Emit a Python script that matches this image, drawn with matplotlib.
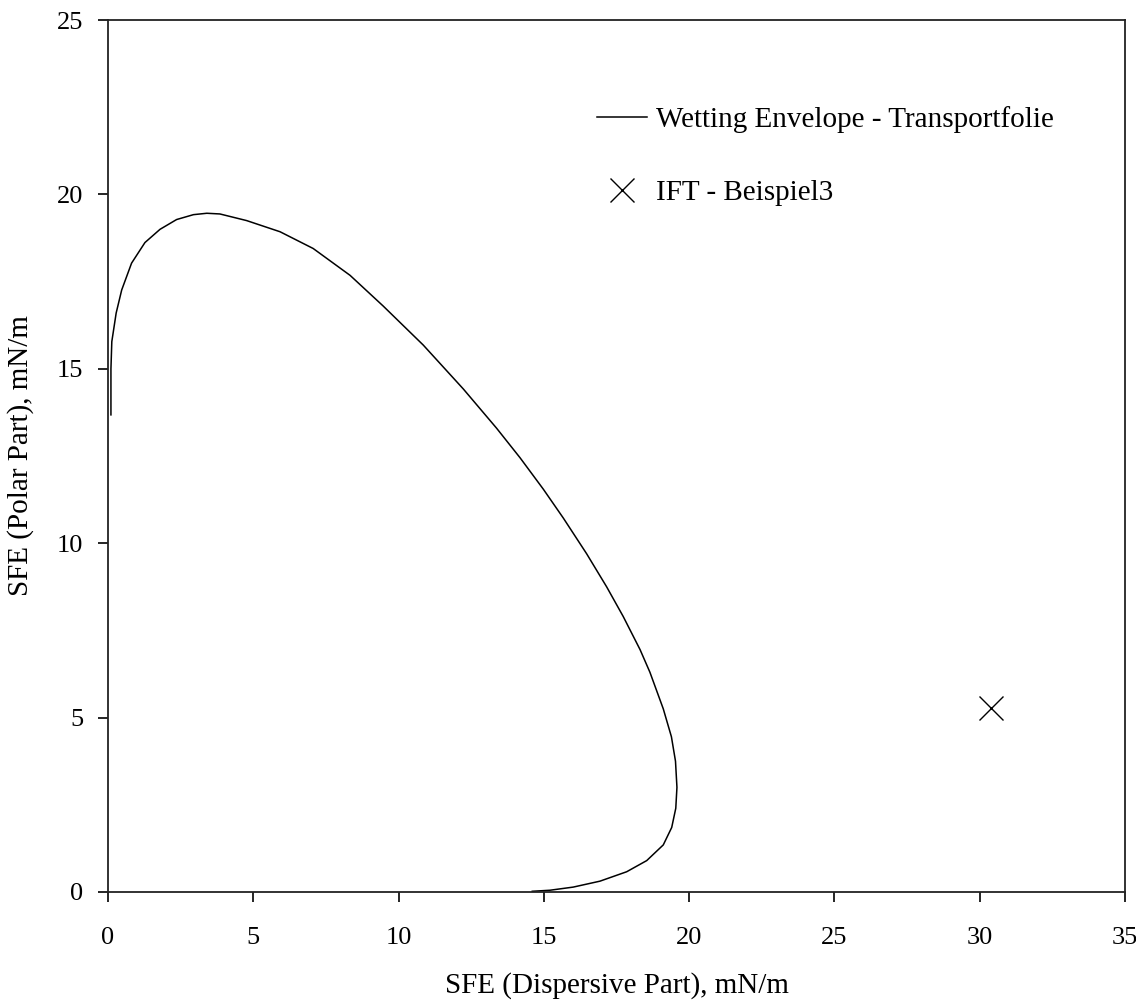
import matplotlib
matplotlib.use("Agg")
import matplotlib.pyplot as plt

plt.rcParams["font.family"] = ["Liberation Serif", "DejaVu Serif"]

# wetting envelope (dispersive, polar) in mN/m
env_x = [0.10, 0.10, 0.13, 0.28, 0.47, 0.81, 1.27, 1.79, 2.36, 2.94, 3.40, 3.85,
         4.77, 5.92, 7.06, 8.33, 9.47, 10.85, 12.23, 13.37, 14.18, 14.98, 15.67,
         16.47, 17.16, 17.73, 18.31, 18.65, 19.11, 19.39, 19.53, 19.58, 19.54,
         19.40, 19.11, 18.54, 17.85, 16.93, 16.01, 15.21, 14.60]
env_y = [13.68, 15.00, 15.78, 16.60, 17.26, 18.03, 18.62, 19.00, 19.28, 19.42, 19.46, 19.44,
         19.25, 18.93, 18.45, 17.68, 16.80, 15.68, 14.42, 13.30, 12.45, 11.55, 10.72,
         9.70, 8.75, 7.90, 6.95, 6.30, 5.25, 4.45, 3.75, 3.00, 2.40,
         1.85, 1.35, 0.90, 0.58, 0.31, 0.14, 0.05, 0.02]

ift_x = [30.4]
ift_y = [5.27]

fig = plt.figure(figsize=(11.36, 10.02), dpi=100)
ax = fig.add_axes([0.0951, 0.1098, 0.8952, 0.8702])

ax.plot(env_x, env_y, color="black", linewidth=1.1,
        label="Wetting Envelope - Transportfolie")
ax.plot(ift_x, ift_y, linestyle="none", marker="x", markersize=17,
        markeredgewidth=1.0, color="black", label="IFT - Beispiel3")

ax.set_xlim(0, 35)
ax.set_ylim(0, 25)
ax.set_xticks(range(0, 36, 5))
ax.set_yticks(range(0, 26, 5))
ax.tick_params(direction="out", length=7, width=1.2, labelsize=19, colors="black")
ax.tick_params(axis="x", pad=18.5)
ax.tick_params(axis="y", pad=11)
for sp in ax.spines.values():
    sp.set_linewidth(1.3)
    sp.set_color("#222222")

ax.set_xlabel("SFE (Dispersive Part), mN/m", fontsize=21, labelpad=16)
ax.set_ylabel("SFE (Polar Part), mN/m", fontsize=21, labelpad=16)

ax.legend(loc="upper left", bbox_to_anchor=(0.481, 0.901), frameon=False,
          fontsize=21, handlelength=1.71, handletextpad=0.29, labelspacing=1.59,
          borderpad=0, borderaxespad=0)

fig.savefig("out.png", dpi=100, facecolor="white")
